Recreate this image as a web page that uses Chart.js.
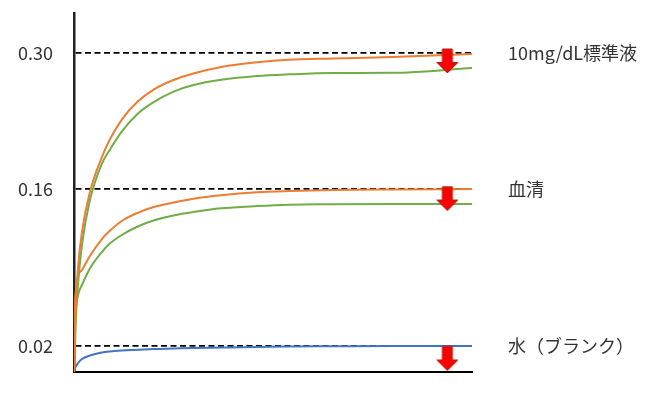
<!DOCTYPE html>
<html>
<head>
<meta charset="utf-8">
<script src="https://cdn.jsdelivr.net/npm/chart.js@4"></script>
<style>
  body { margin: 0; background: #fff; }
</style>
</head>
<body>
<canvas id="chart" width="668" height="394"></canvas>
<script>
// reaction time (arbitrary, 0-100) and absorbance
const TIME = [0, 0.25, 0.5, 1, 2, 4, 7, 9, 12, 16, 20, 25, 30, 37, 46, 54, 65, 80, 100];
const STD_BEFORE = [0, 0.0343, 0.0610, 0.0896, 0.1217, 0.1573, 0.1929, 0.2110, 0.2315, 0.2500, 0.2624, 0.2722, 0.2789, 0.2856, 0.2904, 0.2930, 0.2943, 0.2959, 0.2990];
const STD_AFTER = [0, 0.0208, 0.0476, 0.0744, 0.1101, 0.1502, 0.1860, 0.2005, 0.2191, 0.2374, 0.2494, 0.2603, 0.2671, 0.2725, 0.2763, 0.2780, 0.2794, 0.2796, 0.2846];
const SERUM_BEFORE = [0, 0.0566, 0.0699, 0.0824, 0.0878, 0.1003, 0.1154, 0.1227, 0.1315, 0.1388, 0.1440, 0.1480, 0.1514, 0.1545, 0.1571, 0.1582, 0.1591, 0.1596, 0.1600];
const SERUM_AFTER = [0, 0.0432, 0.0548, 0.0655, 0.0744, 0.0891, 0.1038, 0.1114, 0.1190, 0.1266, 0.1319, 0.1364, 0.1395, 0.1428, 0.1448, 0.1460, 0.1464, 0.1466, 0.1466];
const BLANK = [0, 0.0031, 0.0046, 0.0069, 0.0100, 0.0127, 0.0150, 0.0158, 0.0165, 0.0171, 0.0177, 0.0181, 0.0185, 0.0188, 0.0192, 0.0196, 0.0198, 0.0200, 0.0200];

const LEVELS = [0.02, 0.16, 0.30];
const LEVEL_NAMES = ['水（ブランク）', '血清', '10mg/dL標準液'];
const ARROW_X = [93.8, 93.8, 93.8];
const ARROW_Y = [0.0104, 0.1515, 0.2918];

// the y axis in the figure is schematic: not evenly spaced
const AXIS_BREAKS = [0, 0.02, 0.16, 0.30, 0.34];
const AXIS_STOPS = [0, 0.0724, 0.5097, 0.8886, 1];

const FONT = "'Noto Sans CJK JP', 'Noto Sans', sans-serif";

function lerp(v, from, to) {
    for (let i = 1; i < from.length; i++) {
        if (v <= from[i] || i === from.length - 1) {
            const t = (v - from[i - 1]) / (from[i] - from[i - 1]);
            return to[i - 1] + t * (to[i] - to[i - 1]);
        }
    }
}

class WarpScale extends Chart.LinearScale {
    getPixelForValue(value) {
        return this.getPixelForDecimal(lerp(value, AXIS_BREAKS, AXIS_STOPS));
    }
    getValueForPixel(pixel) {
        return lerp(this.getDecimalForPixel(pixel), AXIS_STOPS, AXIS_BREAKS);
    }
}
WarpScale.id = 'warp';
WarpScale.defaults = Chart.LinearScale.defaults;
Chart.register(WarpScale);

function arrowImage() {
    const c = document.createElement('canvas');
    c.width = 24;
    c.height = 26;
    const g = c.getContext('2d');
    g.beginPath();
    g.moveTo(7, 1);
    g.lineTo(17, 1);
    g.lineTo(17, 14.5);
    g.lineTo(22.5, 14.5);
    g.lineTo(12, 25);
    g.lineTo(1.5, 14.5);
    g.lineTo(7, 14.5);
    g.closePath();
    g.fillStyle = '#FF0000';
    g.fill();
    g.lineWidth = 1;
    g.strokeStyle = '#B02010';
    g.stroke();
    return c;
}

function points(ys) {
    return ys.map((y, i) => ({x: TIME[i], y: y}));
}

function curve(ys, color) {
    return {
        data: points(ys),
        borderColor: color,
        borderWidth: 2,
        pointRadius: 0,
        cubicInterpolationMode: 'monotone',
        fill: false
    };
}

const levelTicks = scale => { scale.ticks = LEVELS.map(v => ({value: v})); };

// no extra room for tick labels at the ends of the vertical axes
function fixWidth(w) {
    return s => {
        s.width = w;
        s.paddingTop = 0;
        s.paddingBottom = 0;
    };
}

new Chart(document.getElementById('chart'), {
    type: 'line',
    data: {
        datasets: [
            {
                data: ARROW_X.map((x, i) => ({x: x, y: ARROW_Y[i]})),
                showLine: false,
                pointStyle: arrowImage(),
                pointRadius: 12,
                order: -1
            },
            curve(STD_BEFORE, '#ED7D31'),
            curve(STD_AFTER, '#70AD47'),
            curve(SERUM_BEFORE, '#ED7D31'),
            curve(SERUM_AFTER, '#70AD47'),
            curve(BLANK, '#4472C4')
        ]
    },
    options: {
        responsive: false,
        animation: false,
        layout: {padding: {top: 13, left: 0, right: 0, bottom: 0}},
        plugins: {legend: {display: false}, tooltip: {enabled: false}},
        scales: {
            x: {
                type: 'linear',
                min: 0,
                max: 100,
                ticks: {display: false},
                grid: {color: 'transparent', drawTicks: false},
                border: {color: '#000', width: 2},
                afterFit: s => {
                    s.height = 22;
                    s.paddingLeft = 0;
                    s.paddingRight = 0;
                }
            },
            y: {
                type: 'warp',
                position: 'left',
                min: 0,
                max: 0.34,
                afterBuildTicks: levelTicks,
                ticks: {
                    padding: 21,
                    color: '#333',
                    font: {family: FONT, size: 18},
                    callback: v => v.toFixed(2)
                },
                grid: {color: '#000', lineWidth: 1.8, drawTicks: false},
                border: {color: '#222', width: 2.5, dash: [6, 3.5]},
                afterFit: fixWidth(74)
            },
            y2: {
                type: 'warp',
                position: 'right',
                min: 0,
                max: 0.34,
                afterBuildTicks: levelTicks,
                ticks: {
                    padding: 28,
                    color: '#333',
                    font: {family: FONT, size: 18},
                    callback: v => LEVEL_NAMES[LEVELS.indexOf(v)]
                },
                grid: {display: false},
                border: {display: false},
                afterFit: fixWidth(196)
            }
        }
    }
});
</script>
</body>
</html>
